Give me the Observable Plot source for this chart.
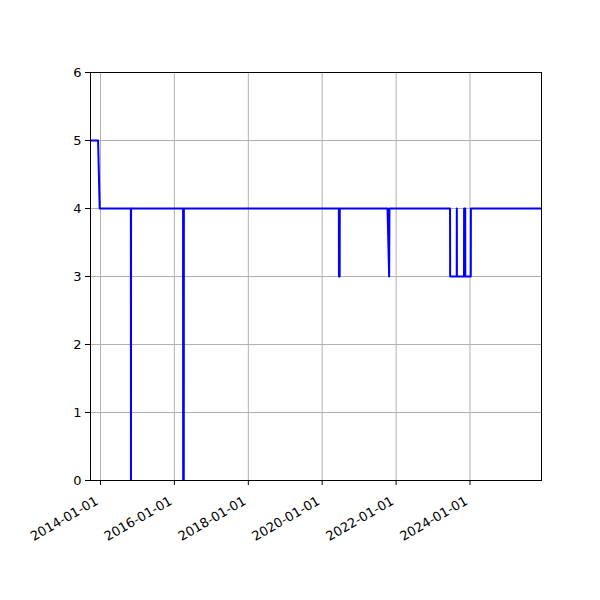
<!DOCTYPE html>
<html>
<head>
<meta charset="utf-8">
<script src="https://cdn.jsdelivr.net/npm/d3@7"></script>
<script src="https://cdn.jsdelivr.net/npm/@observablehq/plot@0.6"></script>
<style>
  html, body { margin: 0; padding: 0; background: #fff; }
</style>
</head>
<body>
<div id="chart"></div>
<script>
// Data (date, value)
const dates = [
  "2013-09-24", "2013-12-08", "2013-12-24",
  "2014-10-28", "2014-10-29", "2014-10-30",
  "2016-03-27", "2016-03-28", "2016-04-03", "2016-04-04",
  "2020-06-14", "2020-06-15", "2020-06-22", "2020-06-23",
  "2021-10-08", "2021-10-24", "2021-10-27",
  "2023-06-18", "2023-06-19", "2023-08-23", "2023-08-24", "2023-08-25",
  "2023-11-03", "2023-11-04", "2023-11-15", "2023-11-16",
  "2024-01-09", "2024-01-10", "2025-12-08"
];
const values = [
  5, 5, 4,
  4, 0, 4,
  4, 0, 0, 4,
  4, 3, 3, 4,
  4, 3, 4,
  4, 3, 3, 4, 3,
  3, 4, 4, 3,
  3, 4, 4
];
const xTickLabels = ["2014-01-01", "2016-01-01", "2018-01-01", "2020-01-01", "2022-01-01", "2024-01-01"];
const yTicks = [0, 1, 2, 3, 4, 5, 6];

const parse = d3.utcParse("%Y-%m-%d");
const data = dates.map((d, i) => ({date: parse(d), value: values[i]}));
const xTicks = xTickLabels.map(parse);

const chart = Plot.plot({
  width: 600,
  height: 600,
  marginLeft: 90,
  marginRight: 59,
  marginTop: 72,
  marginBottom: 120,
  style: {fontFamily: "DejaVu Sans", fontSize: "13px", background: "#fff", color: "#000"},
  x: {type: "utc", domain: [data[0].date, data[data.length - 1].date]},
  y: {domain: [0, 6]},
  marks: [
    Plot.gridX(xTicks, {stroke: "#b0b0b0", strokeOpacity: 1, strokeWidth: 1}),
    Plot.gridY(yTicks, {stroke: "#b0b0b0", strokeOpacity: 1, strokeWidth: 1}),
    Plot.line(data, {x: "date", y: "value", stroke: "#0000ff", strokeWidth: 2, clip: true}),
    Plot.frame({stroke: "#000", strokeWidth: 1}),
    Plot.axisY({ticks: yTicks, tickFormat: d3.format("d"), tickSize: 5, tickPadding: 4, label: null, fontSize: 13}),
    // tick marks only
    Plot.axisX({ticks: xTicks, tickFormat: () => "", tickSize: 5, label: null}),
    // rotated labels
    Plot.axisX({
      ticks: xTicks,
      tickFormat: d3.utcFormat("%Y-%m-%d"),
      tickSize: 0,
      tickRotate: -30,
      textAnchor: "end",
      lineAnchor: "top",
      tickPadding: 10,
      dx: -6,
      dy: 5,
      label: null,
      fontSize: 13
    })
  ]
});
document.getElementById("chart").appendChild(chart);
</script>
</body>
</html>
